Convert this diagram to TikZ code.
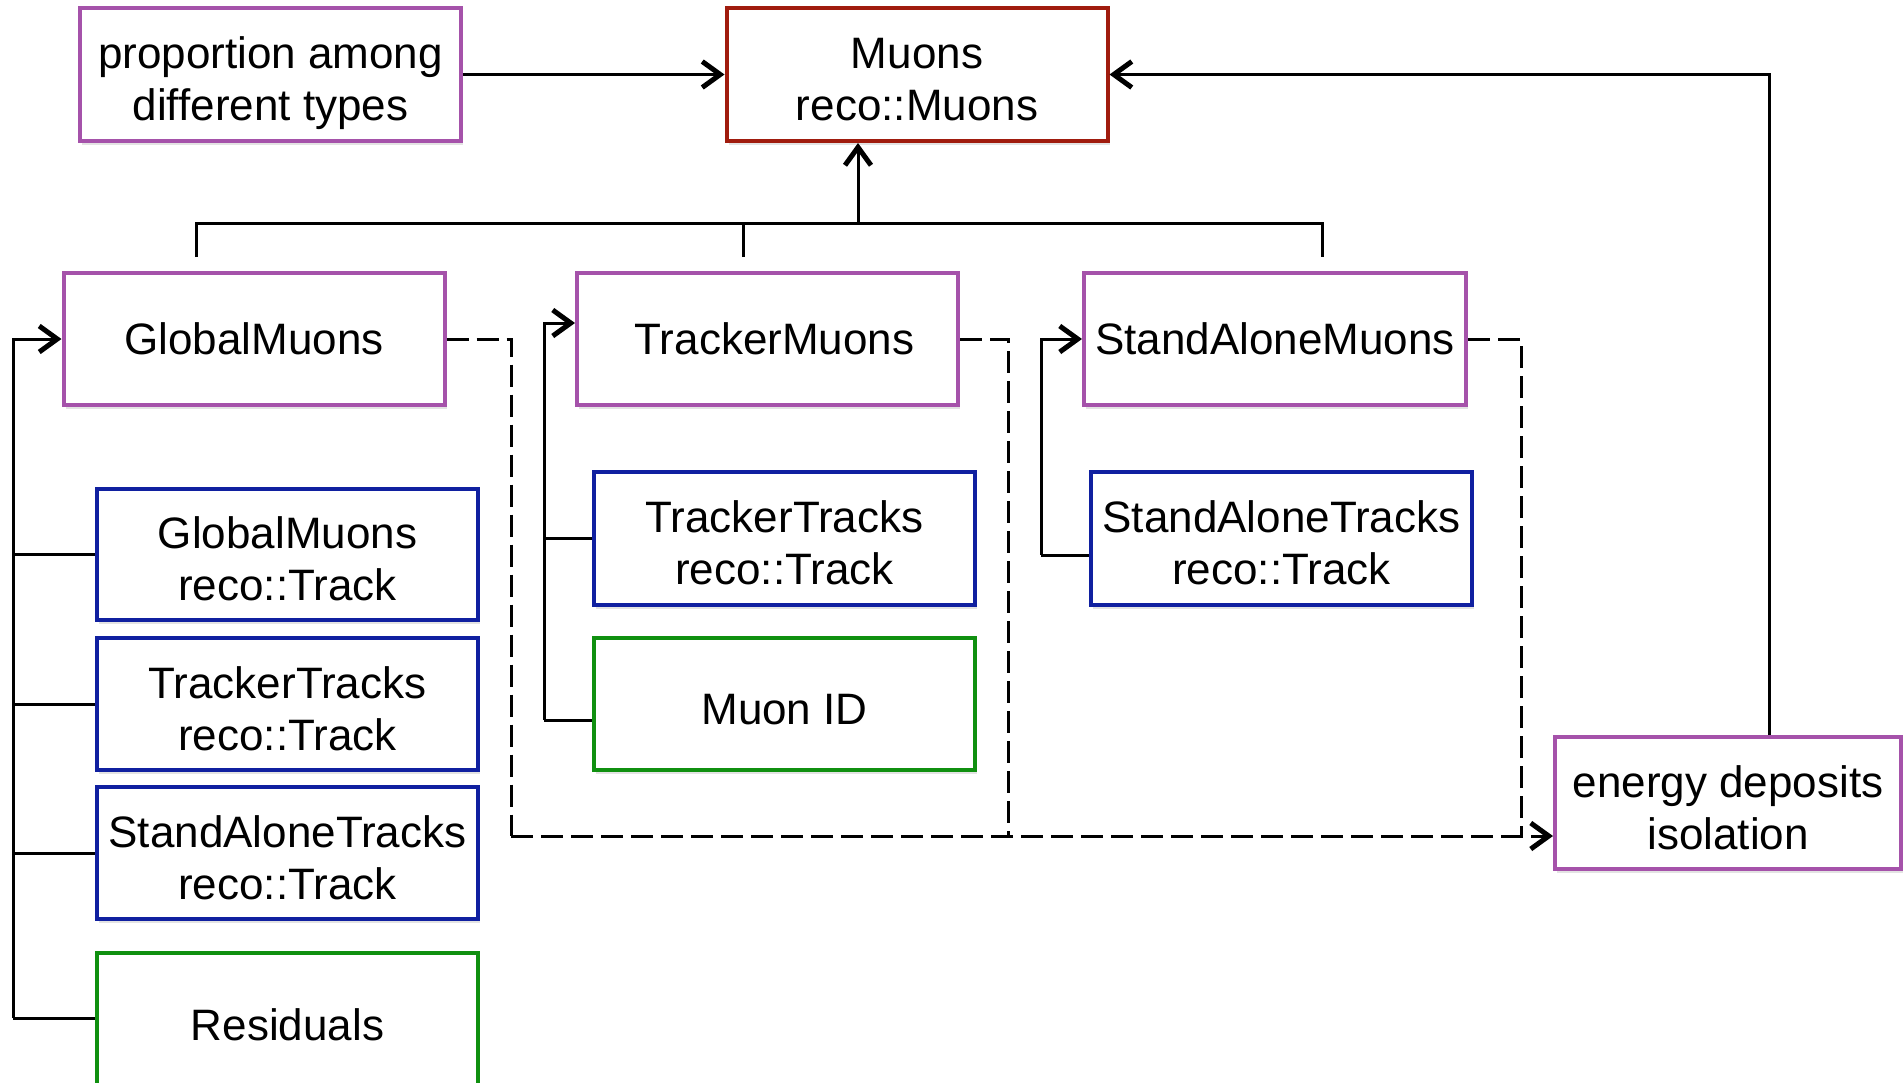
\documentclass[tikz,border=0pt]{standalone}
\usepackage{fontspec}
\setmainfont{Liberation Sans}
\usetikzlibrary{arrows.meta,shadows,calc}
\definecolor{boxpurple}{RGB}{165,82,170}
\definecolor{boxred}{RGB}{160,28,14}
\definecolor{boxblue}{RGB}{16,32,160}
\definecolor{boxgreen}{RGB}{16,144,16}
% two centred lines, first baseline slightly above the box centre
\newcommand\twoline[2]{\vbox{\halign{\hfil##\hfil\cr\rule{0pt}{20pt}#1\cr\smash{#2}\cr}}}
\tikzset{
  box/.style={draw, line width=2pt, fill=white, inner sep=0pt, align=center,
    minimum width=190.5pt, minimum height=66pt,
    font=\fontsize{22}{26}\selectfont,
    drop shadow={shadow xshift=1pt, shadow yshift=-2pt, opacity=0.22}},
  typebox/.style={box, draw=boxpurple},
  mainbox/.style={box, draw=boxred},
  trackbox/.style={box, draw=boxblue},
  checkbox/.style={box, draw=boxgreen},
  link/.style={draw=black, line width=1.5pt},
  tip/.style={-{Straight Barb[length=9pt,width=13pt,line width=2.5pt]}},
  arr/.style={link, tip},
  dashlink/.style={draw=black, line width=1.5pt, dash pattern=on 11pt off 4pt},
}
\begin{document}
\begin{tikzpicture}[x=0.5pt,y=-0.5pt]
\useasboundingbox (0,0) rectangle (1904,1082);
\clip (0,0) rectangle (1904,1082);

% top row
\node[typebox, minimum height=66.5pt] (prop) at (270.5,74.5) {\twoline{proportion among}{different types}};
\node[mainbox, minimum height=66.5pt] (muons) at (917,74.5) {\twoline{Muons}{reco::Muons}};

% muon types
\node[typebox] (gm) at (254,339) {GlobalMuons};
\node[typebox] (tm) at (767.5,339) {\hspace*{7pt}TrackerMuons};
\node[typebox, minimum width=191pt] (sam) at (1275,339) {StandAloneMuons};

% global muon contents
\node[trackbox, minimum height=65.5pt] (gmt) at (287.5,554.5) {\twoline{GlobalMuons}{reco::Track}};
\node[trackbox] (ttl) at (287.5,704) {\twoline{TrackerTracks}{reco::Track}};
\node[trackbox] (satl) at (287.5,853) {\twoline{StandAloneTracks}{reco::Track}};
\node[checkbox, minimum height=71.5pt] (res) at (287.5,1024.5) {Residuals};

% tracker muon contents
\node[trackbox, minimum height=66.5pt] (ttm) at (784.5,538.5) {\twoline{TrackerTracks}{reco::Track}};
\node[checkbox, text height=20.5pt, text depth=0pt] (mid) at (784.5,704) {Muon ID};

% stand-alone muon contents
\node[trackbox, minimum height=66.5pt] (satr) at (1281.5,538.5) {\twoline{StandAloneTracks}{reco::Track}};

% isolation
\node[typebox, minimum width=173pt] (edep) at (1728,803) {\twoline{energy deposits}{isolation}};

% inputs to the muon collection
\draw[arr] (prop.east) -- (muons.west);
\draw[arr] ([xshift=20.5pt]edep.north) |- (muons.east);

% bus joining the three muon types
\coordinate (stubgm) at (196,257);
\coordinate (stubtm) at (743,257);
\coordinate (stubsam) at (1322,257);
\coordinate (hub) at (858,223);
\draw[link] (stubgm) |- (hub) -| (stubsam);
\draw[link] (stubtm) -- (stubtm |- hub);
\draw[arr] (hub) -- (hub |- muons.south);

% global muon tree
\coordinate (gmrail) at (13,1018);
\draw[arr] (gmrail) |- (gm.west);
\draw[link] (gmrail |- gmt.west) -- (gmt.west);
\draw[link] (gmrail |- ttl.west) -- (ttl.west);
\draw[link] (gmrail |- satl.west) -- (satl.west);
\draw[link] (gmrail) -- (gmrail -| res.west);

% tracker muon tree
\coordinate (tmrail) at (544,720);
\draw[arr] (tmrail) |- ([yshift=8pt]tm.west);
\draw[link] (tmrail |- ttm.west) -- (ttm.west);
\draw[link] (tmrail) -- (tmrail -| mid.west);

% stand-alone muon tree
\coordinate (samrail) at (1041,555);
\draw[arr] (samrail) |- (sam.west);
\draw[link] (samrail) -- (samrail -| satr.west);

% dashed feeds into isolation
\coordinate (dgm) at (511,836);
\coordinate (dtm) at (1008,836);
\coordinate (dsam) at (1521,836);
\draw[dashlink] (gm.east) -| (dgm);
\draw[dashlink] (tm.east) -| (dtm);
\draw[dashlink] (sam.east) -| (dsam);
\draw[dashlink, tip] (dgm) -- (dgm -| edep.west);
\end{tikzpicture}
\end{document}
